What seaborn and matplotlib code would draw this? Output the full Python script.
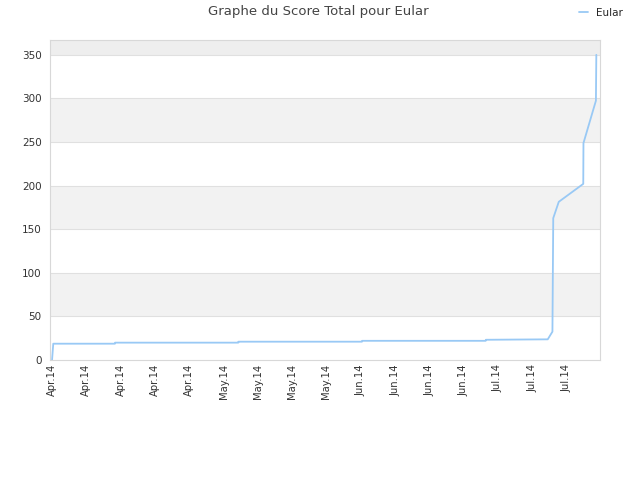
import pandas as pd
import matplotlib
matplotlib.use('Agg')
import matplotlib.pyplot as plt
import matplotlib.dates as mdates
import seaborn as sns

# Score total d'Eular
DATES = ['2014-04-01 00:00', '2014-04-01 06:00', '2014-04-13 20:00', '2014-04-13 21:00',
         '2014-05-09 00:00', '2014-05-09 01:00', '2014-06-03 06:00', '2014-06-03 07:00',
         '2014-06-28 12:00', '2014-06-28 13:00', '2014-07-11 04:00', '2014-07-12 03:00',
         '2014-07-12 05:00', '2014-07-12 07:00', '2014-07-13 10:00', '2014-07-18 10:00',
         '2014-07-18 11:00', '2014-07-21 00:00', '2014-07-21 02:00']
SCORES = [0, 18.7, 18.7, 19.9,
          19.9, 21.0, 21.0, 22.0,
          22.0, 23.2, 23.7, 32.5,
          97.6, 162.7, 181.4, 202.0,
          248.8, 297.4, 350.0]
TICK_DATES = pd.date_range('2014-04-01', periods=16, freq='7D')

TITLE = 'Graphe du Score Total pour Eular'
SERIES = 'Eular'
LINE_COLOR = '#99c9f5'


def main():
    df = pd.DataFrame({'date': pd.to_datetime(DATES), 'score': SCORES, 'serie': SERIES})

    sns.set_theme(style='white')
    plt.rcParams['font.family'] = ['DejaVu Sans']

    fig = plt.figure(figsize=(6.4, 4.8), dpi=100)
    ax = fig.add_axes([50 / 640, 120 / 480, 550 / 640, 320 / 480])

    # bandes alternées
    for lo in (50, 150, 250):
        ax.axhspan(lo, lo + 50, color='#f2f2f2', lw=0, zorder=0)
    ax.axhspan(350, 367, color='#eeeeee', lw=0, zorder=0)
    for y in range(50, 351, 50):
        ax.axhline(y, color='#e0e0e0', lw=0.8, zorder=0.5)

    sns.lineplot(data=df, x='date', y='score', hue='serie', palette=[LINE_COLOR],
                 estimator=None, sort=False, lw=1.3, ax=ax, legend=False)

    ax.set_ylim(0, 367)
    ax.set_yticks(range(0, 351, 50))
    ax.set_xlim(pd.Timestamp('2014-03-31 14:00'), pd.Timestamp('2014-07-21 20:00'))
    ax.set_xticks(TICK_DATES)
    ax.xaxis.set_major_formatter(mdates.DateFormatter('%b.%y'))
    ax.tick_params(axis='x', labelrotation=90, labelsize=7.2, colors='#333333', length=0, pad=3)
    ax.tick_params(axis='y', labelsize=7.5, colors='#333333', length=0, pad=6)
    ax.set_xlabel('')
    ax.set_ylabel('')
    for sp in ax.spines.values():
        sp.set_color('#d8d8d8')
        sp.set_linewidth(0.8)

    fig.suptitle(TITLE, x=318 / 640, y=1 - 12 / 480, va='center', fontsize=9.5, color='#444444')

    handle = plt.Line2D([], [], color=LINE_COLOR, lw=1.3)
    fig.legend([handle], [SERIES], loc='center right', bbox_to_anchor=(632 / 640, 1 - 13 / 480),
               frameon=False, fontsize=7.5, handlelength=0.9, handletextpad=0.7)

    fig.savefig('out.png', dpi=100)
    plt.close(fig)


if __name__ == '__main__':
    main()
